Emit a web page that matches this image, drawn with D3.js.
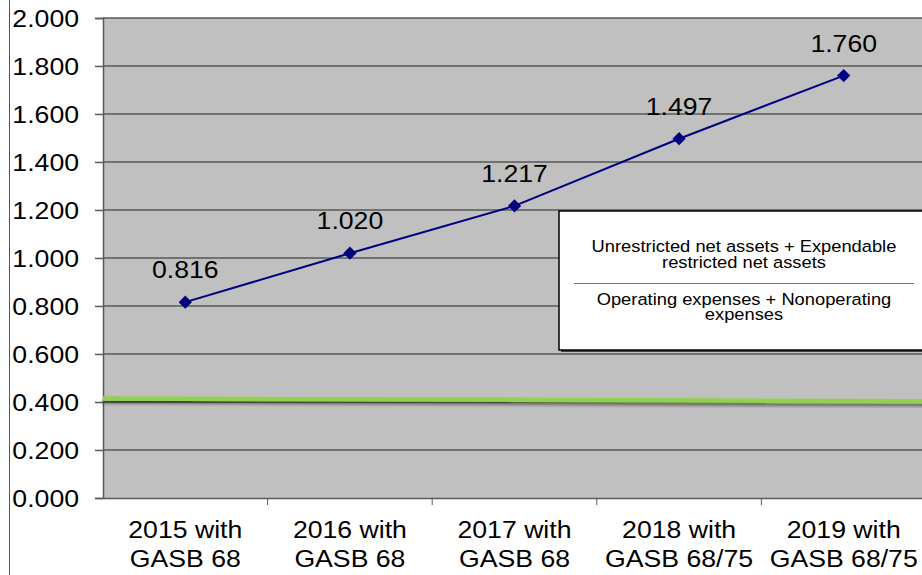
<!DOCTYPE html>
<html>
<head>
<meta charset="utf-8">
<script src="https://cdn.jsdelivr.net/npm/d3@7"></script>
<style>
  html, body { margin: 0; padding: 0; background: #fff; }
  svg { display: block; font-family: "Liberation Sans", Arial, sans-serif; }
</style>
</head>
<body>
<svg id="chart" width="922" height="575"></svg>
<script>
// Ratio of expendable net assets to total expenses, by fiscal year
const yearsTop = ["2015 with", "2016 with", "2017 with", "2018 with", "2019 with"];
const yearsBottom = ["GASB 68", "GASB 68", "GASB 68", "GASB 68/75", "GASB 68/75"];
const ratios = [0.816, 1.020, 1.217, 1.497, 1.760];
const yTicks = [0, 0.2, 0.4, 0.6, 0.8, 1.0, 1.2, 1.4, 1.6, 1.8, 2.0];
// Benchmark line: value at the left and right edge of the plot
const benchmark = [0.415, 0.403];
const formulaNumerator = ["Unrestricted net assets + Expendable", "restricted net assets"];
const formulaDenominator = ["Operating expenses + Nonoperating", "expenses"];

const svg = d3.select("#chart");
const plotLeft = 103, plotTop = 18, plotBottom = 498, plotRight = 926;
const stretch = 1.11; // the whole chart is drawn slightly wide, text included

const x = d3.scaleBand().domain(d3.range(ratios.length)).range([plotLeft, plotRight]);
const y = d3.scaleLinear().domain([0, 2]).range([plotBottom, plotTop]);

// places a text at (px, py) and widens it horizontally
function wideText(sel, px, py) {
  sel.attr("x", 0).attr("y", 0)
    .attr("transform", (d, i) => `translate(${px(d, i)},${py(d, i)}) scale(${stretch},1)`);
  return sel;
}

// outer frame edge
svg.append("line").attr("x1", 9.5).attr("x2", 9.5).attr("y1", 0).attr("y2", 575)
  .attr("stroke", "#555").attr("stroke-width", 1);

// plot area
svg.append("rect").attr("x", plotLeft).attr("y", plotTop)
  .attr("width", plotRight - plotLeft).attr("height", plotBottom - plotTop)
  .attr("fill", "#c0c0c0");

// gridlines
svg.append("g").selectAll("line").data(yTicks.filter(d => d > 0)).join("line")
  .attr("x1", plotLeft).attr("x2", plotRight)
  .attr("y1", d => y(d)).attr("y2", d => y(d))
  .attr("stroke", "#595959").attr("stroke-width", 1.5);

// y axis
const yAxis = svg.append("g").attr("transform", `translate(${plotLeft},0)`)
  .call(d3.axisLeft(y).tickValues(yTicks).tickFormat(d3.format(".3f")).tickSize(8).tickPadding(16));
yAxis.select(".domain").attr("stroke", "#595959").attr("stroke-width", 1.5);
yAxis.selectAll(".tick line").attr("stroke", "#595959").attr("stroke-width", 1.5);
yAxis.selectAll(".tick text")
  .attr("font-size", 24).attr("fill", "#000").attr("dy", null)
  .attr("font-family", "Liberation Sans, Arial, sans-serif")
  .call(s => wideText(s, () => -24, () => 8.5));

// x axis
const xAxis = svg.append("g").attr("transform", `translate(0,${plotBottom})`)
  .call(d3.axisBottom(x).tickValues([]).tickSizeOuter(0));
xAxis.select(".domain").attr("stroke", "#595959").attr("stroke-width", 1.5);
svg.append("g").selectAll("line").data(d3.range(1, ratios.length)).join("line")
  .attr("x1", d => x(d)).attr("x2", d => x(d))
  .attr("y1", plotBottom).attr("y2", plotBottom + 7)
  .attr("stroke", "#595959").attr("stroke-width", 1);

const cx = i => x(i) + x.bandwidth() / 2;
svg.append("g").selectAll("text").data(d3.range(ratios.length)).join("text")
  .attr("text-anchor", "middle").attr("font-size", 24).attr("fill", "#000")
  .text(d => yearsTop[d])
  .call(s => wideText(s, d => cx(d), () => 538));
svg.append("g").selectAll("text").data(d3.range(ratios.length)).join("text")
  .attr("text-anchor", "middle").attr("font-size", 24).attr("fill", "#000")
  .text(d => yearsBottom[d])
  .call(s => wideText(s, d => cx(d), () => 567));

// benchmark line with soft shadow
const defs = svg.append("defs");
const f = defs.append("filter").attr("id", "shadow").attr("x", "-5%").attr("y", "-200%")
  .attr("width", "110%").attr("height", "500%");
f.append("feGaussianBlur").attr("in", "SourceAlpha").attr("stdDeviation", 1.6).attr("result", "b");
f.append("feOffset").attr("in", "b").attr("dy", 3).attr("result", "o");
f.append("feComponentTransfer").attr("in", "o").attr("result", "s")
  .append("feFuncA").attr("type", "linear").attr("slope", 0.45);
const m = f.append("feMerge");
m.append("feMergeNode").attr("in", "s");
m.append("feMergeNode").attr("in", "SourceGraphic");

svg.append("line")
  .attr("x1", plotLeft).attr("x2", plotRight)
  .attr("y1", y(benchmark[0])).attr("y2", y(benchmark[1]))
  .attr("stroke", "#92d050").attr("stroke-width", 4.5).attr("filter", "url(#shadow)");

// ratio line
svg.append("path").datum(ratios)
  .attr("d", d3.line().x((d, i) => cx(i)).y(d => y(d)))
  .attr("fill", "none").attr("stroke", "#000080").attr("stroke-width", 2);

svg.append("g").selectAll("path").data(ratios).join("path")
  .attr("d", d3.symbol(d3.symbolSquare, 88))
  .attr("transform", (d, i) => `translate(${cx(i)},${y(d)}) rotate(45)`)
  .attr("fill", "#000080");

svg.append("g").selectAll("text").data(ratios).join("text")
  .attr("text-anchor", "middle").attr("font-size", 24).attr("fill", "#000")
  .text(d => d3.format(".3f")(d))
  .call(s => wideText(s, (d, i) => cx(i), d => y(d) - 24));

// formula box
const bx = 559, by = 211, bw = 380, bh = 139;
svg.append("rect").attr("x", bx + 2).attr("y", by + 2).attr("width", bw).attr("height", bh)
  .attr("fill", "#404040");
svg.append("rect").attr("x", bx).attr("y", by).attr("width", bw).attr("height", bh)
  .attr("fill", "#fff").attr("stroke", "#000").attr("stroke-width", 1.5);
const fcx = 744;
svg.append("g").selectAll("text").data(formulaNumerator).join("text")
  .attr("text-anchor", "middle").attr("font-size", 16.5).attr("fill", "#000").text(d => d)
  .call(s => wideText(s, () => fcx, (d, i) => 252 + i * 16));
svg.append("line").attr("x1", 574).attr("x2", 914).attr("y1", 283.5).attr("y2", 283.5)
  .attr("stroke", "#777").attr("stroke-width", 1);
svg.append("g").selectAll("text").data(formulaDenominator).join("text")
  .attr("text-anchor", "middle").attr("font-size", 16.5).attr("fill", "#000").text(d => d)
  .call(s => wideText(s, () => fcx, (d, i) => 305 + i * 15));
</script>
</body>
</html>
